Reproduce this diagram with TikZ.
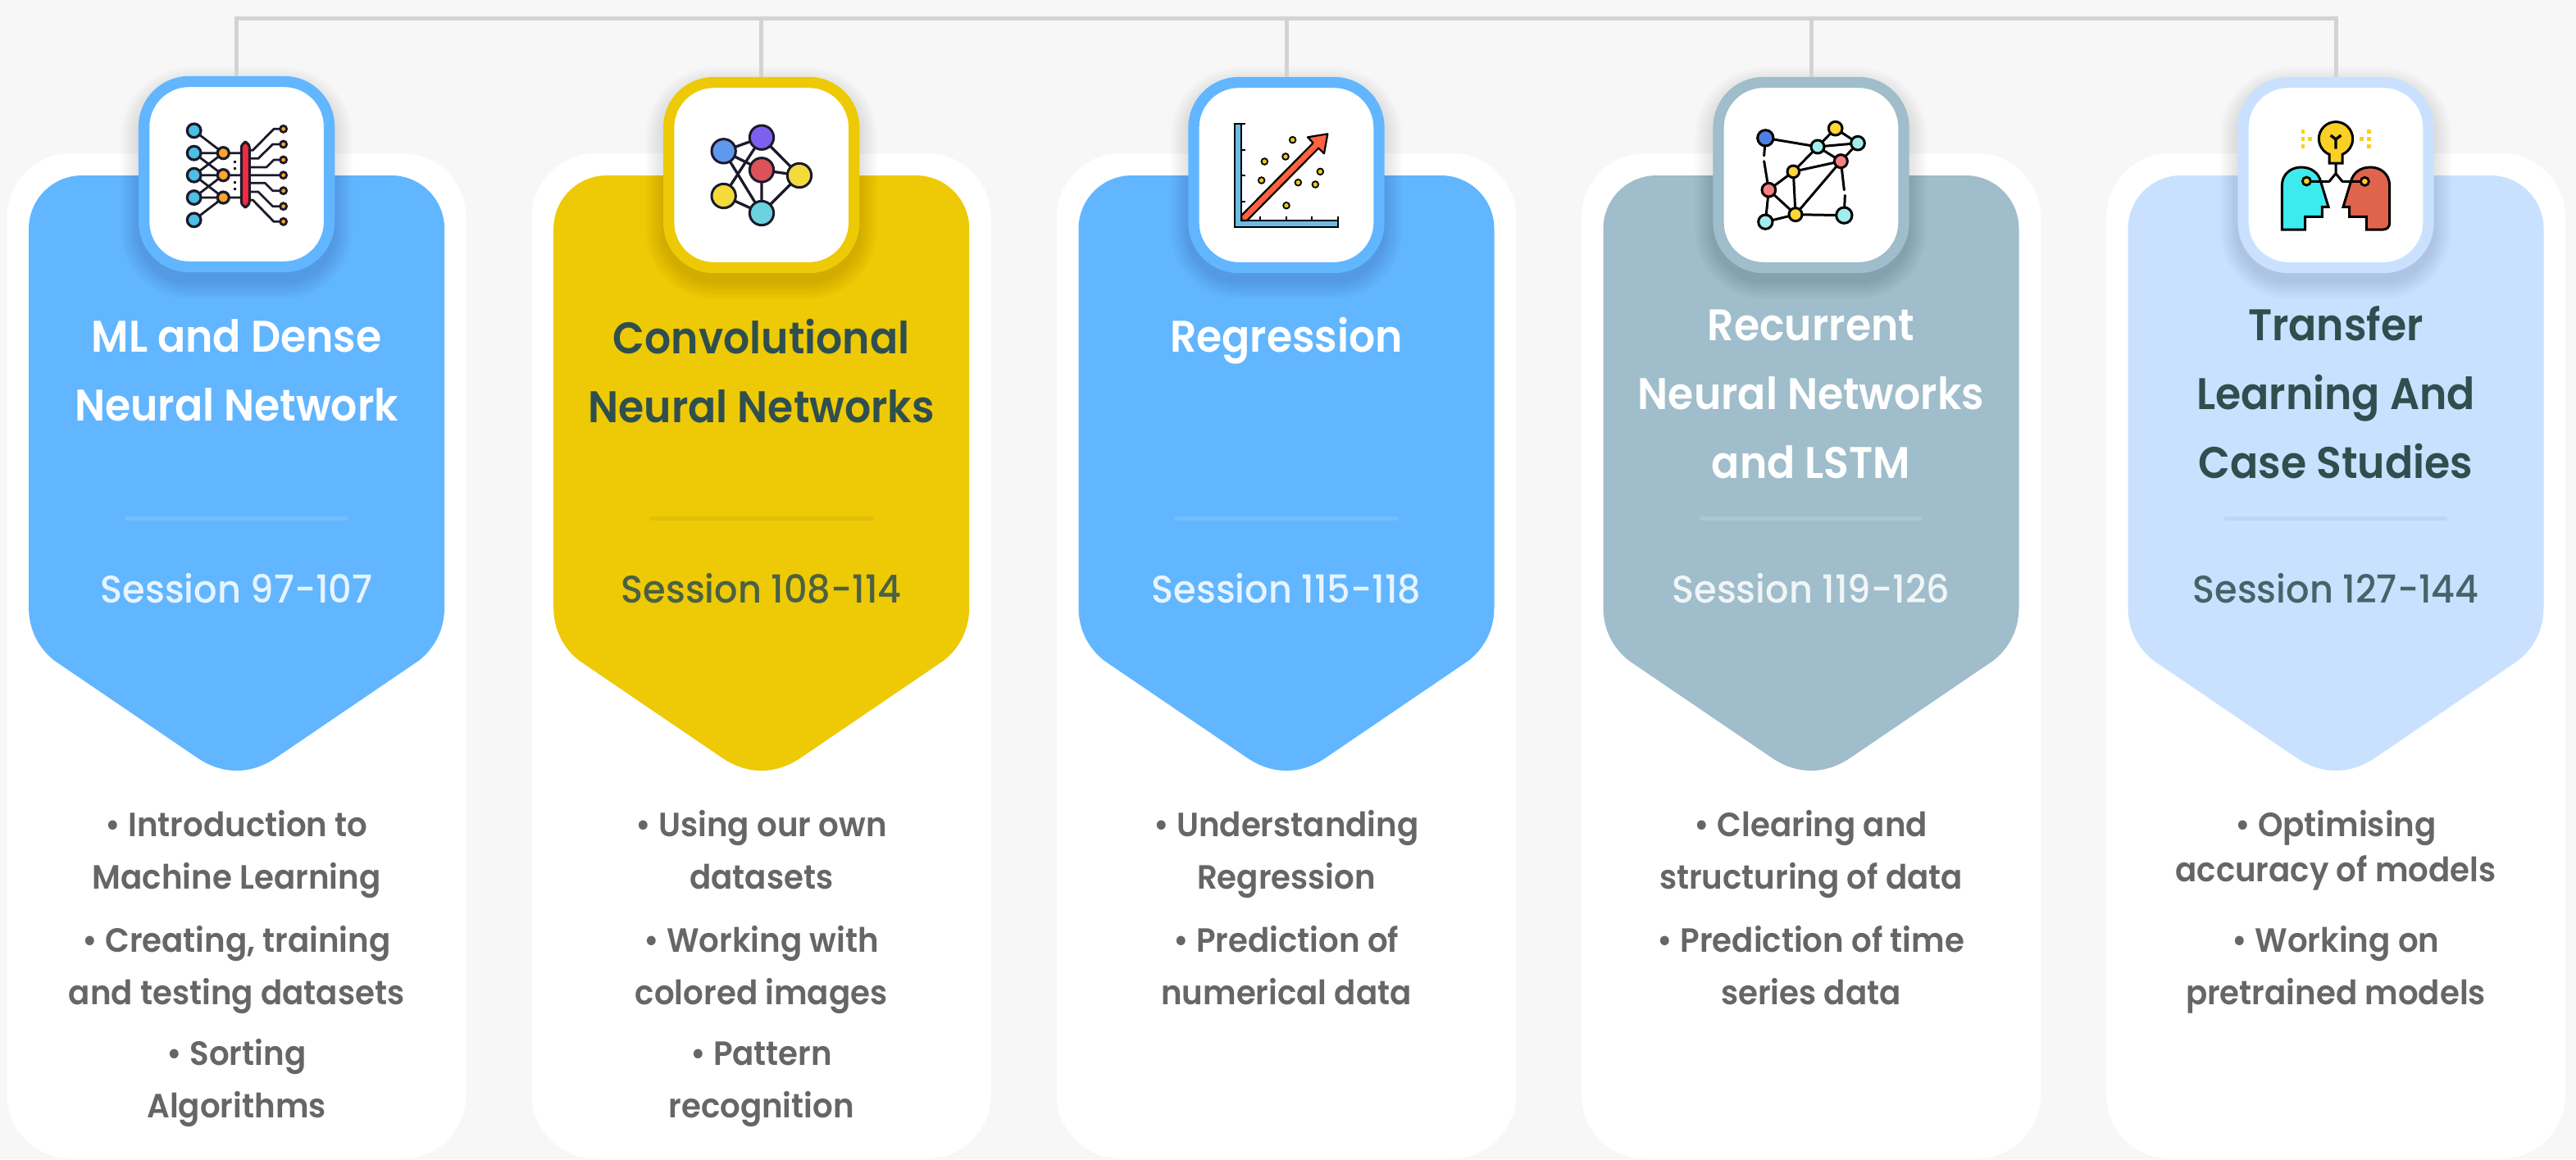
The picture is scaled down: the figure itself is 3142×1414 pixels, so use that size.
\documentclass[tikz,border=0pt]{standalone}
\usepackage{fontspec}
\setmainfont{Poppins}
\newfontfamily\ttlfont[FakeStretch=0.935]{Poppins SemiBold}
\newfontfamily\sesfont[FakeStretch=0.95]{Poppins Medium}
\newfontfamily\bulfont[FakeStretch=0.945]{Poppins SemiBold}
\definecolor{pagebg}{HTML}{F7F7F7}
\definecolor{linegray}{HTML}{D3D3D3}
\definecolor{cblue}{HTML}{61B6FF}
\definecolor{cyellow}{HTML}{EEC905}
\definecolor{cslate}{HTML}{9FBDCB}
\definecolor{clight}{HTML}{C9E1FF}
\definecolor{darkttl}{HTML}{2F4F4F}
\definecolor{bulgray}{HTML}{666666}
\definecolor{icink}{HTML}{1B1A2B}
\definecolor{icblue}{HTML}{4BBFE5}
\definecolor{icorange}{HTML}{FFA62B}
\definecolor{icred}{HTML}{F5293F}
\definecolor{nblue}{HTML}{6098EE}
\definecolor{npurple}{HTML}{7F5FF0}
\definecolor{nred}{HTML}{DC5258}
\definecolor{nyellow}{HTML}{F5DA3B}
\definecolor{ncyan}{HTML}{6BD2DF}
\definecolor{axblue}{HTML}{6CBCE6}
\definecolor{arrowred}{HTML}{FF6240}
\definecolor{dotyellow}{HTML}{F5C518}
\definecolor{gblue}{HTML}{4F7FE5}
\definecolor{gcyan}{HTML}{A0EDEC}
\definecolor{gyellow}{HTML}{FFD53A}
\definecolor{gred}{HTML}{FA8080}
\definecolor{hcyan}{HTML}{3DEBEE}
\definecolor{hred}{HTML}{E0644B}
\definecolor{hyellow}{HTML}{F9D023}
\newcommand\tstrut{\rule{0pt}{60pt}}
\newcommand\bstrut{\rule{0pt}{50pt}}
\tikzset{
  wcard/.style={fill=white,rounded corners=78pt},
  iconbox/.style={rectangle,draw=#1,fill=white,line width=13.3pt,rounded corners=55pt,
    minimum width=226pt,minimum height=226pt,inner sep=0pt},
  conn/.style={draw=linegray,line width=5pt,line cap=rect},
  ttl/.style={inner sep=0pt,anchor=north,align=center,yshift=60pt,text=#1,
    font=\ttlfont\fontsize{54}{84}\selectfont},
  ses/.style={inner sep=0pt,anchor=base,text=#1,text opacity=.85,
    font=\sesfont\fontsize{47}{60}\selectfont},
  bul/.style={inner sep=0pt,anchor=north,align=center,yshift=50pt,text=bulgray,
    font=\bulfont\fontsize{41}{64}\selectfont},
  ink/.style={draw=icink,line width=2.8pt,line cap=round,line join=round},
}
% card: centre x, fill colour, divider colour, divider opacity
\newcommand\cardbase[4]{%
  \fill[wcard] (#1-280,187) rectangle (#1+280,1413.5);
  \fill[#2] (#1-253.5,279) arc[start angle=180,end angle=270,radius=65] -- (#1+188.5,214)
    arc[start angle=270,end angle=360,radius=65] -- (#1+253.5,741)
    .. controls (#1+253.5,770) and (#1+240,792) .. (#1+222,806) -- (#1+47,925)
    .. controls (#1+32,935) and (#1+16,940) .. (#1,940)
    .. controls (#1-16,940) and (#1-32,935) .. (#1-47,925) -- (#1-222,806)
    .. controls (#1-240,792) and (#1-253.5,770) .. (#1-253.5,741) -- cycle;
  \draw[#3,opacity=#4,line width=5pt,line cap=round] (#1-134,632.7) -- (#1+134,632.7);
  \foreach \g in {1,...,14}{
    \fill[black,opacity=.008,rounded corners=62pt+\g*1.6pt]
      (#1-119.5-\g*1.6,104-\g*1.6) rectangle (#1+119.5+\g*1.6,343+\g*1.6);
  }%
}
\newcommand\icdot[5][icink]{\filldraw[draw=#1,fill=#5,line width=3pt] (#2,#3) circle[radius=#4];}
\begin{document}
\begin{tikzpicture}[x=1pt,y=-1pt]
\path[use as bounding box,fill=pagebg] (0,0) rectangle (3142,1414);

\cardbase{288.6}{cblue}{white}{.12}
\cardbase{928.7}{cyellow}{darkttl}{.08}
\cardbase{1569}{cblue}{white}{.12}
\cardbase{2209}{cslate}{white}{.14}
\cardbase{2849}{clight}{darkttl}{.07}

\node[iconbox=cblue]   (box1) at (288.6,212.5) {};
\node[iconbox=cyellow] (box2) at (928.7,213.5) {};
\node[iconbox=cblue]   (box3) at (1569,213.5) {};
\node[iconbox=cslate]  (box4) at (2209,213.5) {};
\node[iconbox=clight]  (box5) at (2849,213.5) {};

\coordinate (top1) at (288.6,22);
\coordinate (top2) at (928.7,22);
\coordinate (top3) at (1569,22);
\coordinate (top4) at (2209,22);
\coordinate (top5) at (2849,22);
\draw[conn] (top1) -- (top5);
\draw[draw=linegray,line width=5pt] (top1) -- (box1.north);
\draw[draw=linegray,line width=5pt] (top2) -- (box2.north);
\draw[draw=linegray,line width=5pt] (top3) -- (box3.north);
\draw[draw=linegray,line width=5pt] (top4) -- (box4.north);
\draw[draw=linegray,line width=5pt] (top5) -- (box5.north);

% icon 1
\begin{scope}[shift={(140,80)},x=.33333pt,y=-.33333pt]
  \draw[ink] (290,238)--(397,320) (290,320)--(397,320) (290,320)--(397,401) (290,401)--(397,320)
    (290,401)--(397,401) (290,401)--(397,483) (290,483)--(397,401) (290,483)--(397,483) (290,565)--(397,483)
    (397,320)--(478,320) (397,401)--(478,401) (397,483)--(478,483);
  \foreach \y in {238,320,401,483,565}{\filldraw[draw=icink,fill=icblue,line width=3.2pt] (290,\y) circle[radius=25];}
  \foreach \y in {320,401,483}{\filldraw[draw=icink,fill=icorange,line width=3.2pt] (397,\y) circle[radius=21];}
  \foreach \y in {352,377,427,452}{\fill[icink] (435,\y-5) rectangle (445,\y+5);}
  \draw[ink] (478,310)--(505,310)--(582,232)--(617,232)
    (478,340)--(525,340)--(578,288)--(617,288)
    (478,372)--(555,372)--(582,345)--(617,345)
    (478,401)--(617,401)
    (478,430)--(550,430)--(578,458)--(617,458)
    (478,462)--(525,462)--(578,515)--(617,515)
    (478,492)--(505,492)--(582,571)--(617,571);
  \filldraw[draw=icink,fill=icred,line width=3pt,rounded corners=7pt] (463,280) rectangle (493,518);
  \foreach \y in {232,288,345,401,458,515,571}{\filldraw[draw=icink,fill=icorange,line width=2.8pt] (617,\y) circle[radius=12];}
\end{scope}

% icon 2
\begin{scope}[shift={(780,80)},x=.33333pt,y=-.33333pt]
  \draw[ink,line width=3.3pt] (308,313)--(447,263) (308,313)--(447,382) (308,313)--(447,540)
    (308,477)--(447,263) (447,263)--(585,402) (447,382)--(585,402) (447,382)--(447,540)
    (585,402)--(447,540) (308,477)--(447,540);
  \icdot[icink]{308}{313}{44}{nblue}
  \icdot[icink]{447}{263}{44}{npurple}
  \icdot[icink]{447}{382}{44}{nred}
  \icdot[icink]{585}{402}{44}{nyellow}
  \icdot[icink]{308}{477}{44}{nyellow}
  \icdot[icink]{447}{540}{44}{ncyan}
\end{scope}

% icon 3
\begin{scope}[shift={(1420,80)},x=.33333pt,y=-.33333pt]
  \filldraw[draw=black,fill=axblue,line width=2.2pt,line join=miter] (257,212)--(257,591)--(637,591)--(637,567)--(283,567)--(283,212)--cycle;
  \draw[black,line width=2.2pt] (257,212)--(298,212) (283,308)--(298,308) (283,402)--(298,402) (283,497)--(298,497)
    (350,567)--(350,552) (446,567)--(446,552) (540,567)--(540,552) (637,567)--(637,552);
  \filldraw[draw=black,fill=arrowred,line width=2.2pt,line join=round] (283,548)--(545,283)--(525,262)--(598,250)--(585,322)--(565,302)--(303,567)--(283,567)--cycle;
  \foreach \p/\q in {470/272,367/351,444/333,571/388,356/420,490/428,553/435,447/512}{
    \filldraw[draw=black,fill=dotyellow,line width=1.8pt] (\p,\q) circle[radius=11.5];}
\end{scope}

% icon 4
\begin{scope}[shift={(2060,80)},x=.33333pt,y=-.33333pt]
  \draw[black,line width=3pt,line cap=round] (280,265)--(471,297) (280,265)--(275,330) (275,350)--(292,455)
    (471,297)--(536,230) (536,230)--(618,284) (471,297)--(618,284) (618,284)--(556,350) (471,297)--(556,350)
    (471,297)--(382,388) (382,388)--(556,350) (382,388)--(292,455) (382,388)--(390,545) (556,350)--(390,545)
    (556,350)--(568,455) (571,475)--(568,548) (292,455)--(390,545) (292,455)--(280,572) (280,572)--(390,545) (390,545)--(568,548);
  \icdot[black]{280}{265}{29}{gblue}
  \icdot[black]{471}{297}{24}{gcyan}
  \icdot[black]{536}{230}{25}{gyellow}
  \icdot[black]{618}{284}{25}{gcyan}
  \icdot[black]{556}{350}{24}{gred}
  \icdot[black]{382}{388}{22}{gyellow}
  \icdot[black]{292}{455}{25}{gred}
  \icdot[black]{390}{545}{24}{gyellow}
  \icdot[black]{280}{572}{26}{gcyan}
  \icdot[black]{568}{548}{29}{gcyan}
\end{scope}

% icon 5
\begin{scope}[shift={(2700,80)},x=.33333pt,y=-.33333pt]
  \filldraw[draw=black,fill=hcyan,line width=3pt,line join=miter] (250,600)--(250,440)
    .. controls (250,395) and (285,372) .. (320,372) .. controls (360,372) and (385,395) .. (392,425)
    --(420,517)--(397,517)--(397,553)--(335,553)--(335,600)--cycle;
  \filldraw[draw=black,fill=hred,line width=3pt,line join=miter] (644,575)--(644,440)
    .. controls (644,395) and (609,372) .. (574,372) .. controls (534,372) and (509,395) .. (502,425)
    --(474,517)--(497,517)--(497,553)--(559,553)--(559,600)--(620,600) .. controls (635,600) and (644,590) .. cycle;
  \draw[black,line width=3pt,line join=round] (340,424)--(423,424)--(447,395)--(471,424)--(553,424) (447,395)--(447,355);
  \filldraw[draw=black,fill=hyellow,line width=3pt] (423,325)--(423,357)--(471,357)--(471,325)
    arc[start angle=67.2,end angle=-247.2,radius=62] --cycle;
  \draw[black,line width=3.4pt] (447,305)--(447,270) (428,255)--(447,270)--(466,255);
  \filldraw[draw=black,fill=hyellow,line width=2.8pt] (340,423) circle[radius=15];
  \filldraw[draw=black,fill=hyellow,line width=2.8pt] (553,424) circle[radius=15];
  \foreach \p/\q in {326/241,326/268,352/268,326/295,568/241,568/268,541/268,568/295}{
    \fill[hyellow] (\p-6.5,\q-6.5) rectangle (\p+6.5,\q+6.5);}
\end{scope}

% titles
\node[ttl=white]   (title1) at (288.6,429) {\tstrut ML and Dense\\Neural Network};
\node[ttl=darkttl] (title2) at (928.7,431) {\tstrut Convolutional\\Neural Networks};
\node[ttl=white]   (title3) at (1569,429) {\tstrut Regression};
\node[ttl=white]   (title4) at (2209,415) {\tstrut Recurrent\\Neural Networks\\and LSTM};
\node[ttl=darkttl] (title5) at (2849,415) {\tstrut Transfer\\Learning And\\Case Studies};

% sessions
\node[ses=white]   (ses1) at (288.6,735) {Session 97-107};
\node[ses=darkttl] (ses2) at (928.7,735) {Session 108-114};
\node[ses=white]   (ses3) at (1569,735) {Session 115-118};
\node[ses=white]   (ses4) at (2209,735) {Session 119-126};
\node[ses=darkttl] (ses5) at (2849,735) {Session 127-144};

% bullets
\node[bul] (b11) at (288.6,1020) {\bstrut • Introduction to\\Machine Learning};
\node[bul] (b12) at (288.6,1161.5) {\bstrut • Creating, training\\and testing datasets};
\node[bul] (b13) at (288.6,1299) {\bstrut • Sorting\\Algorithms};
\node[bul] (b21) at (928.7,1020) {\bstrut • Using our own\\datasets};
\node[bul] (b22) at (928.7,1161.5) {\bstrut • Working with\\colored images};
\node[bul] (b23) at (928.7,1299) {\bstrut • Pattern\\recognition};
\node[bul] (b31) at (1569,1020) {\bstrut • Understanding\\Regression};
\node[bul] (b32) at (1569,1161.5) {\bstrut • Prediction of\\numerical data};
\node[bul] (b41) at (2209,1020) {\bstrut • Clearing and\\structuring of data};
\node[bul] (b42) at (2209,1161.5) {\bstrut • Prediction of time\\series data};
\node[bul] (b51) at (2849,1020) {\bstrut • Optimising\\[-9pt]accuracy of models};
\node[bul] (b52) at (2849,1161.5) {\bstrut • Working on\\pretrained models};
\end{tikzpicture}
\end{document}
